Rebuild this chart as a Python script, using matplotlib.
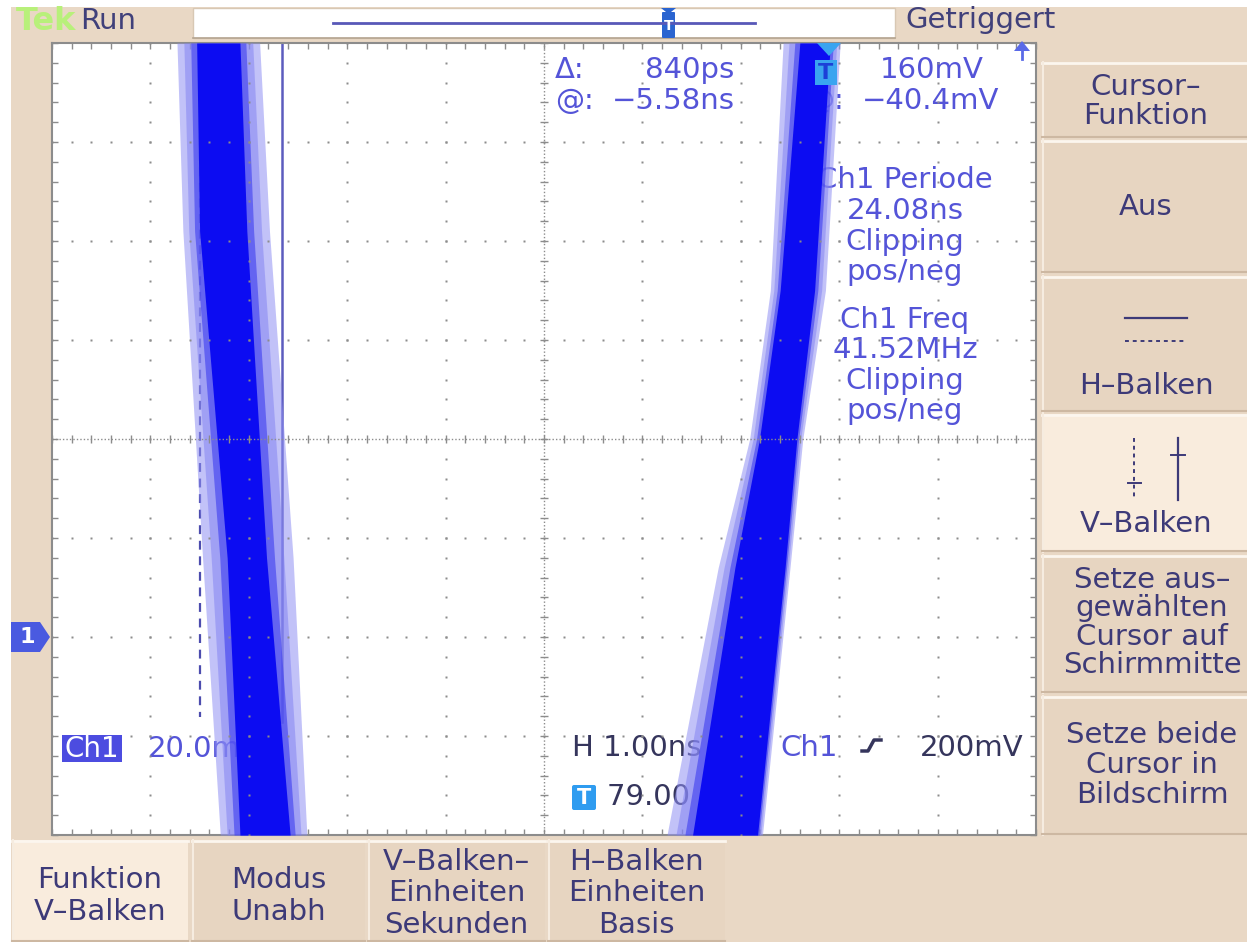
import numpy as np
import matplotlib.pyplot as plt
from matplotlib.patches import Rectangle, Polygon, FancyBboxPatch

W, H = 1247, 942

# screen settings (from the readout)
ns_per_div = 1.0
mv_per_div = 20.0
t_left = -7.92        # ns at left graticule edge (0 = trigger)
v_bottom = -40.0      # mV at bottom edge, ch1 ground is 2 div up
cursor_t = [-6.42, -5.58]
cursor_end_mv = [-16.2, -17.2]

# persistence band, falling edge (left)
fall_mv = [120, 82, 16, -40]
fall_core_l = [-6.45, -6.42, -6.14, -6.01]
fall_core_r = [-6.01, -5.94, -5.74, -5.50]
fall_halo_l = [-6.65, -6.59, -6.39, -6.21]
fall_halo_r = [-5.81, -5.71, -5.47, -5.33]

# persistence band, rising edge (right)
rise_mv = [120, 70, 40, 14, -40]
rise_core_l = [-0.32, -0.52, -0.73, -0.98, -1.41]
rise_core_r = [-0.01, -0.17, -0.35, -0.47, -0.75]
rise_halo_l = [-0.49, -0.62, -0.83, -1.15, -1.67]
rise_halo_r = [0.09, -0.06, -0.29, -0.42, -0.70]

meas_lines = ['Ch1 Periode', '24.08ns', 'Clipping', 'pos/neg',
              'Ch1 Freq', '41.52MHz', 'Clipping', 'pos/neg']
meas_y = [180, 211, 242, 272, 320, 350, 381, 411]

side_buttons = [
    (62, 138, ['Cursor–', 'Funktion'], [87, 116], False),
    (140, 273, ['Aus'], [207], False),
    (276, 412, ['H–Balken'], [386], False),
    (414, 552, ['V–Balken'], [524], True),
    (555, 693, ['Setze aus–', 'gewählten', 'Cursor auf', 'Schirmmitte'], [580, 608, 637, 665], False),
    (696, 835, ['Setze beide', 'Cursor in', 'Bildschirm'], [735, 765, 795], False),
]
bottom_buttons = [
    (12, 188, ['Funktion', 'V–Balken'], [880, 912], True),
    (192, 365, ['Modus', 'Unabh'], [880, 912], False),
    (368, 545, ['V–Balken–', 'Einheiten', 'Sekunden'], [862, 893, 925], False),
    (548, 725, ['H–Balken', 'Einheiten', 'Basis'], [862, 893, 925], False),
]

BEIGE = '#e9d8c5'
BTN = '#e7d5c1'
BTN_SEL = '#f9ecdd'
NAVY = '#3d3a78'
DARK = '#35355c'
BLUE = '#5454d8'
GRID = '#8c8c8c'

fig = plt.figure(figsize=(W / 100, H / 100), dpi=100)
fig.patch.set_facecolor('white')

bg = fig.add_axes([0, 0, 1, 1], zorder=0)
bg.set_xlim(0, W); bg.set_ylim(H, 0); bg.axis('off')

gx0, gx1, gy0, gy1 = 52, 1036, 43, 835
ax = fig.add_axes([gx0 / W, 1 - gy1 / H, (gx1 - gx0) / W, (gy1 - gy0) / H], zorder=1)

ui = fig.add_axes([0, 0, 1, 1], zorder=2)
ui.set_xlim(0, W); ui.set_ylim(H, 0); ui.axis('off')

# ---- background panels
bg.add_patch(Rectangle((11, 7), W - 11, H - 7, fc=BEIGE, ec='none'))
bg.add_patch(Rectangle((193, 8), 702, 30, fc='white', ec='#d8c8b4', lw=1))
bg.plot([193, 895], [38, 38], color='#b4a490', lw=1.2)


def button(x0, x1, y0, y1, sel):
    bg.add_patch(Rectangle((x0, y0), x1 - x0, y1 - y0, fc=BTN_SEL if sel else BTN, ec='none'))
    bg.plot([x0, x1], [y0 + 1, y0 + 1], color='#fcf6ee', lw=2)
    bg.plot([x0 + 1, x0 + 1], [y0, y1], color='#f6ece0', lw=1.5)
    bg.plot([x0, x1], [y1 - 1, y1 - 1], color='#cdb8a2', lw=1.5)


for y0, y1, lines, ys, sel in side_buttons:
    button(1042, W, y0, y1, sel)
    for s, y in zip(lines, ys):
        ui.text(1152 if len(lines) > 2 else 1146, y, s, ha='center', va='center',
                fontsize=21, color=NAVY)

for x0, x1, lines, ys, sel in bottom_buttons:
    button(x0, x1, 840, H, sel)
    for s, y in zip(lines, ys):
        ui.text((x0 + x1) / 2, y, s, ha='center', va='center', fontsize=21, color=NAVY)

# H-Balken / V-Balken icons
ui.plot([1125, 1187], [318, 318], color=NAVY, lw=1.6)
ui.plot([1125, 1187], [341, 341], color=NAVY, lw=1.4, ls=(0, (2, 2)))
ui.plot([1134, 1134], [438, 500], color=NAVY, lw=1.4, ls=(0, (2, 2)))
ui.plot([1128, 1141], [483, 483], color=NAVY, lw=1.4)
ui.plot([1178, 1178], [438, 500], color=NAVY, lw=1.6)
ui.plot([1171, 1185], [455, 455], color=NAVY, lw=1.4)

# top bar
ui.text(16, 21, 'Tek', ha='left', va='center', fontsize=23, color='#b8f07a', fontweight='bold')
ui.text(80, 21, 'Run', ha='left', va='center', fontsize=21, color='#40407a')
ui.text(905, 20, 'Getriggert', ha='left', va='center', fontsize=21, color='#40407a')
ui.plot([333, 755], [23, 23], color='#5858b8', lw=2)
ui.add_patch(FancyBboxPatch((663, 13), 11, 24, boxstyle='round,pad=1', fc='#2a64d0', ec='none'))
ui.add_patch(Polygon([(661, 8), (676, 8), (668.5, 14)], closed=True, fc='#2a64d0', ec='none'))
ui.text(668.5, 26, 'T', ha='center', va='center', fontsize=10, color='white', fontweight='bold')

# ---- graticule
ax.set_xlim(t_left, t_left + 10 * ns_per_div)
ax.set_ylim(v_bottom, v_bottom + 8 * mv_per_div)
ax.set_facecolor('white')
x_minor = t_left + 0.2 * ns_per_div * np.arange(51)
y_minor = v_bottom + 0.2 * mv_per_div * np.arange(41)
ax.set_xticks(x_minor)
ax.set_yticks(y_minor)
ax.tick_params(direction='in', top=True, right=True, length=4, width=1, colors=GRID,
               labelbottom=False, labelleft=False)
for sp in ax.spines.values():
    sp.set_color(GRID)
    sp.set_linestyle((0, (1, 1)))
    sp.set_linewidth(1.5)

x_major = t_left + ns_per_div * np.arange(1, 10)
y_major = v_bottom + mv_per_div * np.arange(1, 8)
t_mid = t_left + 5 * ns_per_div
v_mid = v_bottom + 4 * mv_per_div
dots_x, dots_y = [], []
for xm in x_major:
    if abs(xm - t_mid) > 1e-6:
        dots_x += [xm] * len(y_minor); dots_y += list(y_minor)
for ym in y_major:
    if abs(ym - v_mid) > 1e-6:
        dots_x += list(x_minor); dots_y += [ym] * len(x_minor)
ax.plot(dots_x, dots_y, 's', ms=1.8, color=GRID, mec='none', zorder=6)
ax.axhline(v_mid, color=GRID, lw=1, ls=(0, (1, 1.5)), zorder=6)
ax.axvline(t_mid, color=GRID, lw=1, ls=(0, (1, 1.5)), zorder=6)
ax.vlines(x_minor, v_mid - 0.9, v_mid + 0.9, color=GRID, lw=1, zorder=6)
ax.hlines(y_minor, t_mid - 0.045, t_mid + 0.045, color=GRID, lw=1, zorder=6)

# cursors
ax.plot([cursor_t[0]] * 2, [v_bottom + 8 * mv_per_div, cursor_end_mv[0]],
        color='#4c4cae', lw=1.6, ls=(0, (4, 3)), zorder=2)
ax.plot([cursor_t[1]] * 2, [v_bottom + 8 * mv_per_div, cursor_end_mv[1]],
        color='#5c5cbe', lw=1.8, zorder=2)


def draw_band(levels, halo_l, halo_r, core_l, core_r):
    hl, hr, cl, cr = map(np.asarray, (halo_l, halo_r, core_l, core_r))
    ax.fill_betweenx(levels, hl, hr, color='#9090f4', alpha=0.55, lw=0, zorder=3)
    for w, col, a in [(0.35, '#8080f2', 0.5), (0.7, '#3c3cf0', 0.6)]:
        ax.fill_betweenx(levels, hl + w * (cl - hl), hr + w * (cr - hr),
                         color=col, alpha=a, lw=0, zorder=4)
    ax.fill_betweenx(levels, cl, cr, color='#0c0cf2', lw=0, zorder=5)


draw_band(fall_mv, fall_halo_l, fall_halo_r, fall_core_l, fall_core_r)
draw_band(rise_mv, rise_halo_l, rise_halo_r, rise_core_l, rise_core_r)


def scr_text(x, y, s, color, ha='left', **kw):
    ax.text(x, y, s, transform=ui.transData, clip_on=False, ha=ha, va='center',
            fontsize=21, color=color, zorder=1, **kw)


# cursor readouts
scr_text(555, 70, 'Δ:', BLUE)
scr_text(645, 70, '840ps', BLUE)
scr_text(555, 101, '@:', BLUE)
scr_text(612, 101, '−5.58ns', BLUE)
scr_text(798, 70, 'Δ', BLUE)
scr_text(880, 70, '160mV', BLUE)
scr_text(805, 101, '@:', BLUE)
scr_text(862, 101, '−40.4mV', BLUE)

for s, y in zip(meas_lines, meas_y):
    scr_text(905, y, s, BLUE, ha='center')

scr_text(148, 749, '20.0mV', BLUE)
scr_text(572, 748, 'H 1.00ns', DARK)
scr_text(735, 748, 'A', DARK, ha='center')
scr_text(780, 748, 'Ch1', BLUE)
scr_text(920, 748, '200mV', DARK)
scr_text(607, 797, '79.00 %', DARK)

# overlay markers
ui.add_patch(Rectangle((62, 735), 60, 27, fc='#4c4ce0', ec='none'))
ui.text(92, 749, 'Ch1', ha='center', va='center', fontsize=20, color='white')
ui.add_patch(FancyBboxPatch((574, 787), 20, 21, boxstyle='round,pad=2', fc='#2f9cf0', ec='none'))
ui.text(584, 798, 'T', ha='center', va='center', fontsize=15, color='white', fontweight='bold')
ui.plot([862, 868, 874, 881], [751, 751, 740, 740], color=DARK, lw=2.5)

ui.add_patch(Polygon([(11, 622), (40, 622), (50, 637), (40, 652), (11, 652)], closed=True,
                     fc='#4a5ae0', ec='none'))
ui.text(27, 637, '1', ha='center', va='center', fontsize=16, color='white', fontweight='bold')

ui.add_patch(Polygon([(817, 43), (841, 43), (829, 56)], closed=True, fc='#3aa4f0', ec='none'))
ui.add_patch(Rectangle((815, 60), 22, 25, fc='#3aa4f0', ec='none'))
ui.text(826, 73, 'T', ha='center', va='center', fontsize=16, color='#1c40d8', fontweight='bold')

ui.add_patch(Polygon([(1014, 51), (1030, 51), (1022, 41)], closed=True, fc='#5a6ae8', ec='none'))
ui.plot([1022, 1022], [50, 59], color='#5a6ae8', lw=2)

fig.savefig('out.png', dpi=100, facecolor=fig.get_facecolor())
